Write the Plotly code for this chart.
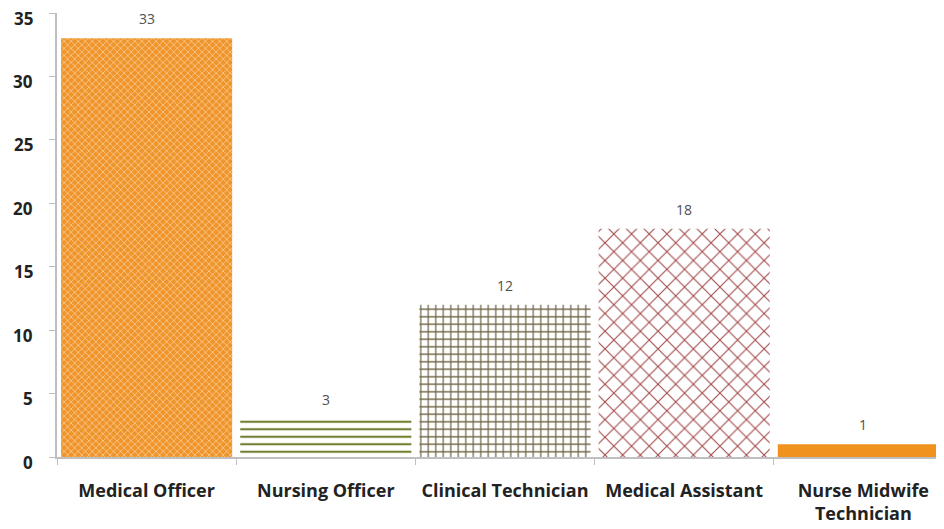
import plotly.graph_objects as go

categories = ["Medical Officer", "Nursing Officer", "Clinical Technician", "Medical Assistant", "Nurse Midwife<br>Technician"]
values = [33, 3, 12, 18, 1]
y_ticks = [0, 5, 10, 15, 20, 25, 30, 35]

bg_colors = ["#F0952A", "white", "white", "white", "#F0921E"]
fg_colors = ["#FCE7CF", "#6E8030", "#6E6646", "#A24848", "#F0921E"]
shapes = ["x", "-", "+", "x", ""]
sizes = [5, 7.5, 7.5, 12.5, 8]
solid = [0.2, 0.28, 0.3, 0.16, 0.3]

FONT = "Open Sans, sans-serif"

fig = go.Figure()
for i, cat in enumerate(categories):
    fig.add_trace(go.Bar(
        x=[cat],
        y=[values[i]],
        marker=dict(
            color=bg_colors[i],
            line=dict(width=0),
            pattern=dict(shape=shapes[i], fgcolor=fg_colors[i], fgopacity=1,
                         size=sizes[i], solidity=solid[i], fillmode="overlay"),
        ),
    ))
    fig.add_annotation(
        x=cat, y=values[i], text=str(values[i]),
        showarrow=False, yanchor="bottom", yshift=8,
        font=dict(family=FONT, size=14, color="#505050"),
    )

# y tick labels (drawn slightly below their tick marks, as in the reference)
for v in y_ticks:
    fig.add_annotation(
        xref="paper", x=0, y=v, text=str(v),
        showarrow=False, xanchor="right", yanchor="middle",
        xshift=-22, yshift=-5,
        font=dict(family=FONT, size=17, color="#222", weight="bold"),
    )

fig.update_layout(
    width=936, height=521,
    margin=dict(l=49, r=0, t=5, b=72),
    paper_bgcolor="white", plot_bgcolor="white",
    showlegend=False,
    barmode="overlay",
    bargap=0.045,
    font=dict(family=FONT, color="#222"),
)
fig.update_xaxes(
    range=[-0.5, 4.45], automargin=False,
    categoryorder="array", categoryarray=categories,
    showline=True, linecolor="#BFBFBF", linewidth=2,
    ticks="outside", tickson="boundaries", ticklen=6, tickcolor="#BFBFBF",
    tickfont=dict(size=18, color="#222", family=FONT, weight="bold"),
    ticklabelstandoff=16, ticklabeloverflow="allow",
    showgrid=False,
)
fig.update_yaxes(
    range=[0, 35], tickvals=y_ticks, showticklabels=False, automargin=False,
    showline=True, linecolor="#BFBFBF", linewidth=2,
    ticks="outside", ticklen=6, tickcolor="#BFBFBF",
    showgrid=False, zeroline=False,
)

fig.write_html("out.html")
